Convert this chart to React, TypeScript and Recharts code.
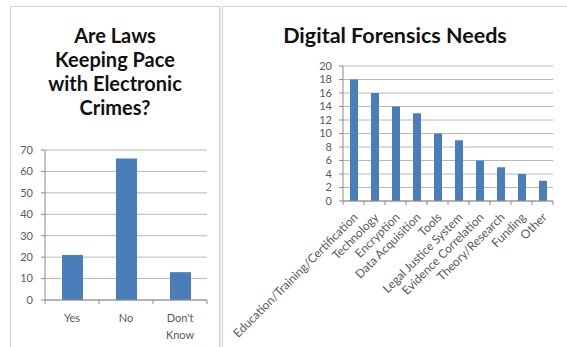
import React from 'react';
import { BarChart, Bar, XAxis, YAxis, CartesianGrid } from 'recharts';

// left chart: "Are Laws Keeping Pace with Electronic Crimes?"
const lawCategories = ['Yes', 'No', "Don't Know"];
const lawValues = [21, 66, 13];
const lawTicks = [0, 10, 20, 30, 40, 50, 60, 70];

// right chart: "Digital Forensics Needs"
const needCategories = [
  'Education/Training/Certification',
  'Technology',
  'Encryption',
  'Data Acquisition',
  'Tools',
  'Legal Justice System',
  'Evidence Correlation',
  'Theory/Research',
  'Funding',
  'Other',
];
const needValues = [18, 16, 14, 13, 10, 9, 6, 5, 4, 3];
const needTicks = [0, 2, 4, 6, 8, 10, 12, 14, 16, 18, 20];

const FONT = 'Lato, "Open Sans", sans-serif';
const BAR = '#4a7ebb';
const GRID = '#b8b8b8';
const AXIS = '#8c8c8c';
const LABEL = '#595959';

const lawData = lawCategories.map((name, i) => ({ name, value: lawValues[i] }));
const needData = needCategories.map((name, i) => ({ name, value: needValues[i] }));

// chart sizes, also used to find the category width for the in-between tick marks
const LAW_W = 210;
const LAW_MARGIN = { top: 20, right: 13, bottom: 0, left: 0 };
const LAW_YW = 35;
const NEED_W = 345;
const NEED_MARGIN = { top: 16, right: 14, bottom: 0, left: 89 };
const NEED_YW = 32;

const lawBand = (LAW_W - LAW_MARGIN.left - LAW_MARGIN.right - LAW_YW) / lawCategories.length;
const needBand = (NEED_W - NEED_MARGIN.left - NEED_MARGIN.right - NEED_YW) / needCategories.length;

// tick marks sit between categories, like Excel
const boundaryTicks = (x: number, y: number, off: number, last: boolean) => (
  <>
    <line x1={x - off} y1={y} x2={x - off} y2={y + 4} stroke={AXIS} />
    {last && <line x1={x + off} y1={y} x2={x + off} y2={y + 4} stroke={AXIS} />}
  </>
);

const LawTick = (props: any) => {
  const { x, y, payload, index, visibleTicksCount, band } = props;
  const lines = String(payload.value).split(' ');
  return (
    <g>
      {boundaryTicks(x, y, band / 2, index === visibleTicksCount - 1)}
      <text x={x} y={y} textAnchor="middle" fill={LABEL} fontSize={11} fontFamily={FONT}>
        {lines.map((l, i) => (
          <tspan key={i} x={x} dy={i === 0 ? 22 : 17}>
            {l}
          </tspan>
        ))}
      </text>
    </g>
  );
};

const NeedTick = (props: any) => {
  const { x, y, payload, index, visibleTicksCount, band } = props;
  const tx = x + 5;
  const ty = y + 17;
  return (
    <g>
      {boundaryTicks(x, y, band / 2, index === visibleTicksCount - 1)}
      <text
        x={tx}
        y={ty}
        transform={`rotate(-45 ${tx} ${ty})`}
        textAnchor="end"
        fill={LABEL}
        fontSize={12}
        fontFamily={FONT}
      >
        {payload.value}
      </text>
    </g>
  );
};

const panel: React.CSSProperties = {
  position: 'absolute',
  border: '1px solid #d4d4d4',
  boxShadow: '1px 1px 1px #e6e6e6',
  background: '#fff',
};

export default function App() {
  return (
    <div
      style={{
        position: 'fixed',
        left: 0,
        top: 0,
        width: 567,
        height: 347,
        background: '#fff',
        overflow: 'hidden',
        fontFamily: FONT,
      }}
    >
      <div style={{ ...panel, left: 10, top: 6, width: 208, height: 345 }} />
      <div style={{ ...panel, left: 222, top: 6, width: 346, height: 345 }} />

      <div
        style={{
          position: 'absolute',
          left: 10,
          top: 23,
          width: 210,
          textAlign: 'center',
          fontSize: 20,
          lineHeight: '24px',
          fontWeight: 700,
          color: '#111',
        }}
      >
        Are Laws
        <br />
        Keeping Pace
        <br />
        with Electronic
        <br />
        Crimes?
      </div>

      <div
        style={{
          position: 'absolute',
          left: 222,
          top: 22,
          width: 346,
          textAlign: 'center',
          fontSize: 21.5,
          lineHeight: '26px',
          fontWeight: 700,
          color: '#111',
        }}
      >
        Digital Forensics Needs
      </div>

      <div style={{ position: 'absolute', left: 10, top: 130 }}>
        <BarChart width={LAW_W} height={217} data={lawData} margin={LAW_MARGIN}>
          <CartesianGrid vertical={false} stroke={GRID} />
          <XAxis
            dataKey="name"
            height={47}
            stroke={AXIS}
            tickLine={false}
            tickSize={0}
            tickMargin={0}
            interval={0}
            tick={<LawTick band={lawBand} />}
          />
          <YAxis
            width={LAW_YW}
            domain={[0, 70]}
            ticks={lawTicks}
            interval={0}
            stroke={AXIS}
            tickSize={4}
            tickMargin={8}
            tick={{ fill: LABEL, fontSize: 11, fontFamily: FONT }}
          />
          <Bar dataKey="value" fill={BAR} barSize={21} isAnimationActive={false} />
        </BarChart>
      </div>

      <div style={{ position: 'absolute', left: 222, top: 50 }}>
        <BarChart width={NEED_W} height={297} data={needData} margin={NEED_MARGIN}>
          <CartesianGrid vertical={false} stroke={GRID} />
          <XAxis
            dataKey="name"
            height={146}
            stroke={AXIS}
            tickLine={false}
            tickSize={0}
            tickMargin={0}
            interval={0}
            tick={<NeedTick band={needBand} />}
          />
          <YAxis
            width={NEED_YW}
            domain={[0, 20]}
            ticks={needTicks}
            interval={0}
            stroke={AXIS}
            tickSize={4}
            tickMargin={7}
            tick={{ fill: LABEL, fontSize: 11, fontFamily: FONT }}
          />
          <Bar dataKey="value" fill={BAR} barSize={8} isAnimationActive={false} />
        </BarChart>
      </div>
    </div>
  );
}
